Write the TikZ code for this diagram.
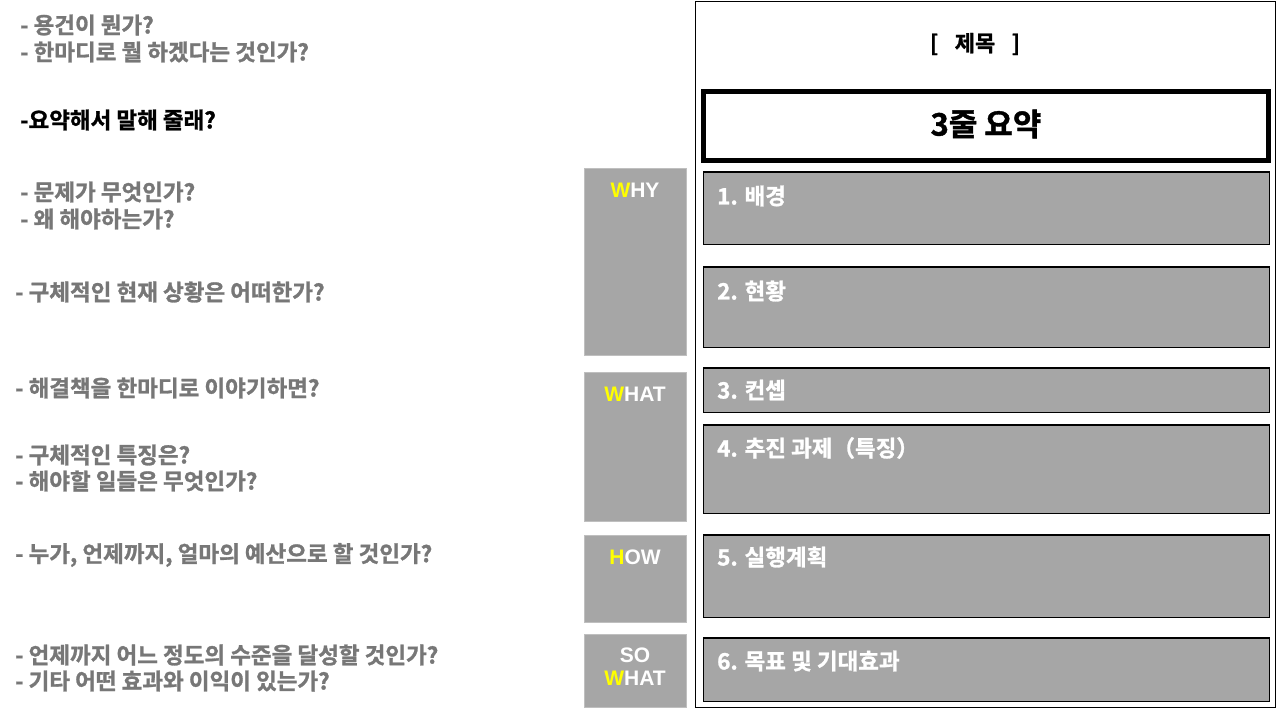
\documentclass[tikz,border=0pt]{standalone}
\usepackage{fontspec}
\setmainfont{Noto Sans CJK KR}
\newfontfamily\kor{Noto Sans CJK KR Bold}[FakeBold=1.2]
\newfontfamily\lat{Liberation Sans Bold}
\definecolor{qgray}{HTML}{777777}
\definecolor{boxgray}{HTML}{A6A6A6}
\definecolor{wyellow}{HTML}{FFFF00}
\begin{document}
\begin{tikzpicture}[x=1pt,y=-1pt,
  q/.style={anchor=west,inner sep=0pt,text=qgray,font=\kor\fontsize{22.5}{26}\selectfont},
  qblack/.style={q,text=black},
  sidebox/.style={fill=boxgray,draw=black!25,line width=0.8pt},
  sidelabel/.style={inner sep=0pt,text=white,font=\lat\fontsize{21}{23}\selectfont,align=center},
  itembox/.style={fill=boxgray,draw=black,line width=1.8pt},
  itemlabel/.style={anchor=west,inner sep=0pt,text=white,font=\kor\fontsize{22.5}{26}\selectfont}]
\useasboundingbox (0,0) rectangle (1280,709);
\fill[white] (0,0) rectangle (1280,709);
% left questions
\node[q] (q1) at (20,25) {- 용건이 뭔가?};
\node[q] (q2) at (20,52) {- 한마디로 뭘 하겠다는 것인가?};
\node[qblack] (q3) at (20,120) {-요약해서 말해 줄래?};
\node[q] (q4) at (20,192) {- 문제가 무엇인가?};
\node[q] (q5) at (20,219) {- 왜 해야하는가?};
\node[q] (q6) at (15,292) {- 구체적인 현재 상황은 어떠한가?};
\node[q] (q7) at (15,388) {- 해결책을 한마디로 이야기하면?};
\node[q] (q8) at (15,455) {- 구체적인 특징은?};
\node[q] (q9) at (15,481) {- 해야할 일들은 무엇인가?};
\node[q] (q10) at (15,555) {- 누가, 언제까지, 얼마의 예산으로 할 것인가?};
\node[q] (q11) at (15,655) {- 언제까지 어느 정도의 수준을 달성할 것인가?};
\node[q] (q12) at (15,681) {- 기타 어떤 효과와 이익이 있는가?};
% side boxes
\draw[sidebox] (584,168) rectangle (686,355);
\draw[sidebox] (584,372) rectangle (686,521);
\draw[sidebox] (584,535) rectangle (686,622);
\draw[sidebox] (584,634) rectangle (686,707);
\node[sidelabel] (why) at (635,190) {\textcolor{wyellow}{W}HY};
\node[sidelabel] (what) at (635,394) {\textcolor{wyellow}{W}HAT};
\node[sidelabel] (how) at (635,557) {\textcolor{wyellow}{H}OW};
\node[sidelabel] (sowhat) at (635,667) {SO\\\textcolor{wyellow}{W}HAT};
% right frame
\draw[black,line width=1.5pt] (695.5,1.5) rectangle (1275.5,707.5);
\node[inner sep=0pt,font=\kor\fontsize{22}{25}\selectfont] (title) at (975,44) {[\hspace{0.75em}제목\hspace{0.75em}]};
\draw[black,line width=5pt] (703,91) rectangle (1268.5,160);
\node[inner sep=0pt,font=\kor\fontsize{31}{36}\selectfont] (sum) at (986,124) {3줄 요약};
% item boxes
\draw[itembox] (703.5,172) rectangle (1269.5,244.5);
\draw[itembox] (703.5,267) rectangle (1269.5,347.5);
\draw[itembox] (703.5,368) rectangle (1269.5,412.5);
\draw[itembox] (703.5,425) rectangle (1269.5,513.5);
\draw[itembox] (703.5,535) rectangle (1269.5,617.5);
\draw[itembox] (703.5,638) rectangle (1269.5,701.5);
\node[itemlabel] (i1) at (717,196) {1. 배경};
\node[itemlabel] (i2) at (717,291) {2. 현황};
\node[itemlabel] (i3) at (717,390) {3. 컨셉};
\node[itemlabel] (i4) at (717,448) {4. 추진 과제（특징）};
\node[itemlabel] (i5) at (717,557) {5. 실행계획};
\node[itemlabel] (i6) at (717,661) {6. 목표 및 기대효과};
\end{tikzpicture}
\end{document}
